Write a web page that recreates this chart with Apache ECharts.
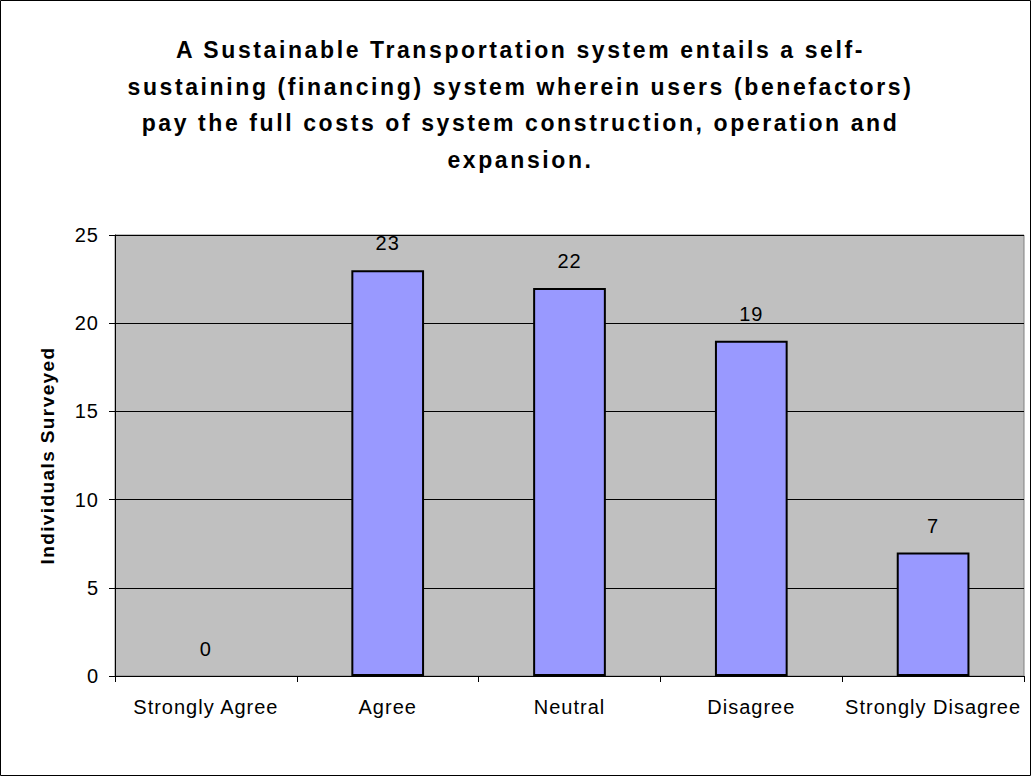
<!DOCTYPE html>
<html>
<head>
<meta charset="utf-8">
<script src="https://cdn.jsdelivr.net/npm/echarts@6/dist/echarts.min.js"></script>
<style>
html,body{margin:0;padding:0;background:#fff;}
#chart{width:1031px;height:776px;}
</style>
</head>
<body>
<div id="chart"></div>
<script>
const titleLines = [
  "A Sustainable Transportation system entails a self-",
  "sustaining (financing) system wherein users (benefactors)",
  "pay the full costs of system construction, operation and",
  "expansion."
];
const categories = ["Strongly Agree", "Agree", "Neutral", "Disagree", "Strongly Disagree"];
const counts = [0, 23, 22, 19, 7];
const yAxisTitle = "Individuals Surveyed";

const FONT = "'Liberation Sans', Arial, sans-serif";
const chart = echarts.init(document.getElementById('chart'), null, {renderer: 'svg'});
const barData = counts.map(function (v) {
  return v === 0 ? {value: v, itemStyle: {borderWidth: 0}} : v;
});
chart.setOption({
  animation: false,
  backgroundColor: '#ffffff',
  title: {
    text: titleLines.join('\n'),
    left: 515.5,
    top: 27,
    textAlign: 'center',
    textStyle: {
      fontFamily: FONT,
      fontSize: 23,
      fontWeight: 'bold',
      color: '#000',
      lineHeight: 36.5
    }
  },
  graphic: [{
    type: 'rect',
    shape: {x: 0.5, y: 0.5, width: 1030, height: 775},
    style: {fill: 'none', stroke: '#000', lineWidth: 1},
    silent: true
  }],
  grid: {
    left: 115, right: 7, top: 235, bottom: 100,
    show: true,
    backgroundColor: '#C0C0C0',
    borderColor: '#808080',
    borderWidth: 1
  },
  xAxis: {
    type: 'category',
    data: categories,
    boundaryGap: true,
    axisLine: {show: true, lineStyle: {color: '#000', width: 1}},
    axisTick: {show: true, alignWithLabel: false, length: 6, lineStyle: {color: '#000'}},
    axisLabel: {fontFamily: FONT, fontSize: 20, color: '#000', margin: 21, interval: 0},
    splitLine: {show: false}
  },
  yAxis: {
    type: 'value',
    min: 0, max: 25, interval: 5,
    name: yAxisTitle,
    nameLocation: 'middle',
    nameGap: 58,
    nameTextStyle: {fontFamily: FONT, fontSize: 19, fontWeight: 'bold', color: '#000'},
    axisLine: {show: true, lineStyle: {color: '#000', width: 1}},
    axisTick: {show: true, length: 6, lineStyle: {color: '#000'}},
    axisLabel: {fontFamily: FONT, fontSize: 20, color: '#000', margin: 16},
    splitLine: {show: true, lineStyle: {color: '#000', width: 1}}
  },
  series: [{
    type: 'bar',
    data: barData,
    barWidth: '40%',
    itemStyle: {color: '#9999FF', borderColor: '#000', borderWidth: 2},
    label: {
      show: true,
      position: 'top',
      distance: 17,
      fontFamily: FONT,
      fontSize: 20,
      color: '#000'
    }
  }]
});

// Widen letter spacing to mimic the original spreadsheet text rendering.
function applySpacing() {
  const texts = document.querySelectorAll('#chart svg text');
  texts.forEach(function (el) {
    const cs = getComputedStyle(el);
    const size = parseFloat(cs.fontSize);
    let sp = 0;
    if (size >= 22.5) sp = 2.6;
    else if (size >= 19.5) sp = 1.0;
    else if (size >= 18.5) sp = 1.4;
    el.style.letterSpacing = sp + 'px';
  });
}
chart.on('finished', applySpacing);
setTimeout(applySpacing, 50);
</script>
</body>
</html>
